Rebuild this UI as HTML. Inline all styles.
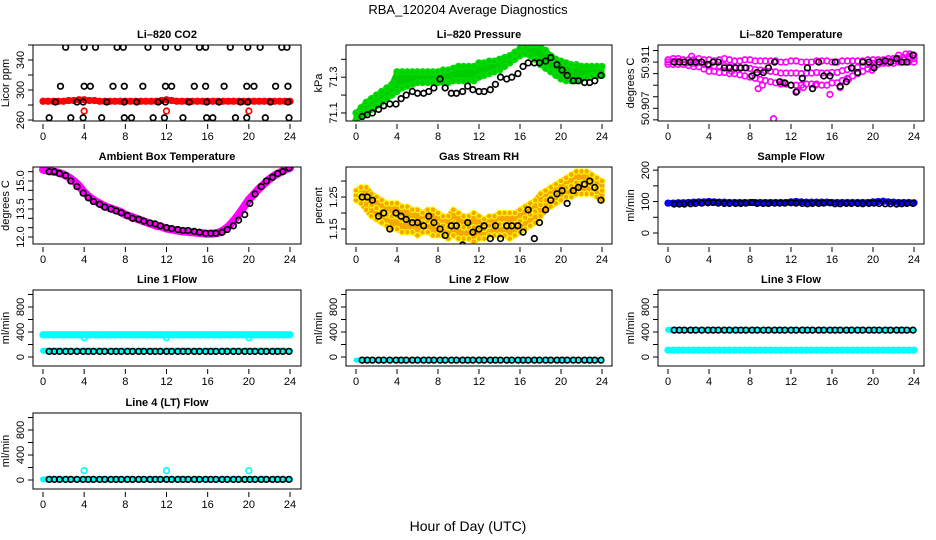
<!DOCTYPE html>
<html><head><meta charset="utf-8"><style>
html,body{margin:0;padding:0;background:#fff;}
svg{display:block;font-family:"Liberation Sans",Arial,sans-serif;}
</style></head><body>
<svg id="chart" width="936" height="540" viewBox="0 0 936 540" xmlns="http://www.w3.org/2000/svg">
<rect x="0" y="0" width="936" height="540" fill="#fff"/>
<text x="468" y="14" text-anchor="middle" font-size="13">RBA_120204  Average Diagnostics</text>
<text x="468" y="531" text-anchor="middle" font-size="14">Hour of Day (UTC)</text>
</svg>
<script>
// ---------- data ----------
const hoursHalf = [0,0.5,1,1.5,2,2.5,3,3.5,4,4.5,5,5.5,6,6.5,7,7.5,8,8.5,9,9.5,10,10.5,11,11.5,12,12.5,13,13.5,14,14.5,15,15.5,16,16.5,17,17.5,18,18.5,19,19.5,20,20.5,21,21.5,22,22.5,23,23.5,24];
const blackHours = [0.6,1.1,1.6,2.2,2.7,3.3,3.9,4.4,4.9,5.5,6.0,6.6,7.1,7.6,8.2,8.7,9.3,9.8,10.4,10.9,11.4,12.0,12.5,13.1,13.6,14.1,14.7,15.2,15.8,16.3,16.8,17.4,17.9,18.5,19.0,19.6,20.1,20.6,21.2,21.7,22.3,22.8,23.3,23.9];
const xTicks = [0,4,8,12,16,20,24];
const outlierHours = [4,12,20];

// CO2
const co2Red = [285,285,285,285,285,286,286,287,287,286,286,285,285,285,285,285,285,285,285,285,285,285,285,286,287,286,285,285,285,285,285,285,285,285,285,285,285,285,285,285,285,285,285,285,285,285,285,285,285];
const co2RedOut = [272,272,272];
const co2BlackHours = [2.2,4.0,5.1,7.2,7.8,10.2,11.9,13.1,15.2,15.8,18.2,19.9,21.1,23.2,23.7, 1.7,4.0,4.6,6.8,7.9,9.7,11.9,12.5,14.7,15.8,17.6,19.8,20.5,22.6,23.8, 1.2,3.3,3.9,6.2,7.9,9.1,11.2,11.9,14.2,15.9,17.1,19.2,19.9,22.1,23.8, 0.6,2.7,3.9,5.7,7.9,8.6,10.7,11.8,13.6,15.9,16.5,18.7,19.8,21.6,23.9];
const co2Black = [357,357,357,357,357,357,357,357,357,357,357,357,357,357,357, 305,305,305,305,305,305,305,305,305,305,305,305,305,305,305, 284,284,284,284,284,284,284,284,284,284,284,284,284,284,284, 263,263,263,263,263,263,263,263,263,263,263,263,263,263,263];

// Pressure
const presUpper = [71.1,71.13,71.16,71.18,71.2,71.22,71.24,71.26,71.33,71.33,71.33,71.33,71.33,71.33,71.33,71.33,71.33,71.34,71.34,71.35,71.36,71.36,71.36,71.36,71.38,71.38,71.39,71.39,71.4,71.41,71.42,71.44,71.46,71.47,71.48,71.48,71.47,71.45,71.42,71.4,71.39,71.38,71.37,71.37,71.36,71.36,71.36,71.36,71.36];
const presLower = [71.06,71.08,71.1,71.12,71.14,71.16,71.18,71.2,71.22,71.24,71.25,71.26,71.27,71.27,71.27,71.27,71.27,71.27,71.27,71.28,71.28,71.28,71.28,71.28,71.3,71.31,71.32,71.33,71.34,71.36,71.38,71.4,71.42,71.43,71.42,71.4,71.37,71.35,71.33,71.31,71.29,71.28,71.28,71.28,71.29,71.3,71.31,71.31,71.31];
const presBlack = [71.08,71.09,71.1,71.12,71.14,71.15,71.15,71.18,71.2,71.22,71.21,71.21,71.22,71.24,71.29,71.24,71.21,71.21,71.22,71.25,71.23,71.22,71.22,71.23,71.26,71.3,71.29,71.3,71.32,71.36,71.38,71.38,71.38,71.39,71.41,71.37,71.34,71.31,71.28,71.28,71.27,71.27,71.28,71.31];

// Li-820 temperature
const tempUpper = [50.9112,50.9113,50.9113,50.9112,50.9112,50.9112,50.9113,50.9112,50.9112,50.9111,50.9112,50.9113,50.9112,50.9111,50.9111,50.9112,50.9112,50.9111,50.9111,50.9111,50.9111,50.9111,50.911,50.911,50.9111,50.9111,50.911,50.911,50.911,50.9111,50.9111,50.9111,50.911,50.911,50.9111,50.9111,50.9111,50.9111,50.9111,50.9112,50.9112,50.9112,50.9112,50.9113,50.9113,50.9113,50.9114,50.9115,50.9116];
const tempLower = [50.9108,50.9108,50.9108,50.9108,50.9107,50.9106,50.9106,50.9104,50.9102,50.9102,50.9101,50.9101,50.91,50.91,50.9099,50.9098,50.9097,50.9096,50.9095,50.9094,50.9093,50.9092,50.9091,50.9091,50.909,50.909,50.909,50.9091,50.9091,50.9091,50.909,50.909,50.9092,50.9092,50.9094,50.9096,50.9098,50.91,50.9102,50.9104,50.9106,50.9108,50.9109,50.9109,50.9109,50.911,50.911,50.911,50.911];
const tempScatterHours = [10.3,15.8,8.8,13.2,14.4,9.2,3.9,6.2,12.6,17.6,19.9,22.5,23.2,23.6,2.3,11.2,16.8];
const tempScatter = [50.9061,50.9082,50.9087,50.9088,50.909,50.909,50.9108,50.9102,50.9085,50.9095,50.9103,50.9116,50.9117,50.9117,50.9115,50.9092,50.9088];
const tempBlack = [50.911,50.911,50.911,50.911,50.911,50.911,50.9108,50.911,50.911,50.9105,50.9105,50.9105,50.9105,50.9105,50.9098,50.9101,50.9101,50.9105,50.911,50.9093,50.9092,50.909,50.9084,50.9096,50.9105,50.9087,50.911,50.9098,50.9098,50.911,50.9089,50.9093,50.9105,50.9101,50.911,50.911,50.9105,50.911,50.9111,50.911,50.9113,50.911,50.911,50.9116];

// Ambient box temperature
const ambMagenta = [15.6,15.55,15.5,15.45,15.35,15.2,15.0,14.75,14.4,14.15,13.95,13.8,13.65,13.55,13.45,13.35,13.2,13.1,13.0,12.9,12.8,12.7,12.6,12.55,12.45,12.4,12.35,12.3,12.28,12.25,12.22,12.2,12.17,12.18,12.22,12.35,12.55,12.85,13.2,13.6,14.0,14.3,14.6,14.85,15.1,15.3,15.45,15.6,15.7];
const ambBlack = [15.5,15.5,15.4,15.3,15.0,14.7,14.35,14.1,13.9,13.75,13.6,13.5,13.4,13.3,13.15,13.0,12.95,12.85,12.75,12.7,12.6,12.5,12.45,12.4,12.35,12.35,12.3,12.25,12.2,12.2,12.2,12.25,12.4,12.6,12.9,13.2,13.8,14.3,14.7,15.0,15.2,15.4,15.5,15.7];

// Gas stream RH
const rhUpper = [1.27,1.28,1.28,1.26,1.25,1.24,1.23,1.23,1.23,1.22,1.22,1.21,1.21,1.2,1.21,1.21,1.2,1.19,1.19,1.21,1.2,1.19,1.19,1.2,1.19,1.18,1.19,1.19,1.2,1.2,1.2,1.2,1.21,1.22,1.23,1.24,1.26,1.27,1.28,1.29,1.3,1.31,1.32,1.33,1.33,1.33,1.32,1.31,1.3];
const rhLower = [1.24,1.23,1.21,1.19,1.18,1.17,1.16,1.15,1.15,1.14,1.14,1.14,1.13,1.14,1.14,1.13,1.13,1.13,1.12,1.13,1.12,1.12,1.12,1.11,1.12,1.12,1.13,1.13,1.13,1.13,1.12,1.13,1.14,1.15,1.16,1.17,1.19,1.21,1.22,1.23,1.24,1.25,1.25,1.26,1.26,1.26,1.26,1.25,1.24];
const rhBlack = [1.25,1.25,1.24,1.19,1.2,1.15,1.2,1.19,1.18,1.17,1.17,1.16,1.19,1.17,1.15,1.13,1.16,1.16,1.1,1.17,1.14,1.15,1.16,1.12,1.16,1.12,1.16,1.16,1.16,1.14,1.21,1.12,1.17,1.21,1.24,1.26,1.27,1.23,1.27,1.28,1.29,1.3,1.28,1.24];

// Sample flow
const sampleBlue = [95,95,96,96,97,98,99,99,100,99,98,98,97,97,97,97,97,97,97,97,97,97,97,97,99,100,99,98,98,98,98,98,97,97,97,97,97,97,97,97,99,100,101,99,98,97,97,97,96];
const sampleBlack = [92,92,92,93,94,95,96,97,95,94,94,94,94,95,97,94,94,94,95,95,95,96,95,94,93,94,94,95,96,93,93,94,94,94,93,94,95,94,93,93,92,93,94,94];

// Line flows
const line1CyanHigh = [355,355,355,356,357,357,356,356,355,355,355,355,355,355,355,355,355,355,355,355,355,355,355,355,355,355,355,355,355,355,355,355,355,355,355,355,355,355,355,355,355,355,355,355,355,355,355,355,355];
const line1CyanOut = [310,310,310];
const line1CyanLow = [100,100,100,100,100,100,100,100,100,100,100,100,100,100,100,100,100,100,100,100,100,100,100,100,100,100,100,100,100,100,100,100,100,100,100,100,100,100,100,100,100,100,100,100,100,100,100,100,100];
const line1Black = [90,90,90,90,90,90,90,90,90,90,90,90,90,90,90,90,90,90,90,90,90,90,90,90,90,90,90,90,90,90,90,90,90,90,90,90,90,90,90,90,90,90,90,90];
const line2Cyan = [-50,-50,-50,-50,-50,-50,-50,-50,-50,-50,-50,-50,-50,-50,-50,-50,-50,-50,-50,-50,-50,-50,-50,-50,-50,-50,-50,-50,-50,-50,-50,-50,-50,-50,-50,-50,-50,-50,-50,-50,-50,-50,-50,-50,-50,-50,-50,-50,-50];
const line2Black = [-50,-50,-50,-50,-50,-50,-50,-50,-50,-50,-50,-50,-50,-50,-50,-50,-50,-50,-50,-50,-50,-50,-50,-50,-50,-50,-50,-50,-50,-50,-50,-50,-50,-50,-50,-50,-50,-50,-50,-50,-50,-50,-50,-50];
const line3CyanHigh = [435,432,430,430,430,430,430,430,430,430,430,430,430,430,430,430,430,430,430,430,430,430,430,430,430,430,430,430,430,430,430,430,430,430,430,430,430,430,430,430,430,430,430,430,430,430,430,430,430];
const line3CyanLow = [110,110,110,110,110,110,110,110,110,110,110,110,110,110,110,110,110,110,110,110,110,110,110,110,110,110,110,110,110,110,110,110,110,110,110,110,110,110,110,110,110,110,110,110,110,110,110,110,110];
const line3Black = [430,430,430,430,430,430,430,430,430,430,430,430,430,430,430,430,430,430,430,430,430,430,430,430,430,430,430,430,430,430,430,430,430,430,430,430,430,430,430,430,430,430,430,430];
const line4Cyan = [10,10,10,10,10,10,10,10,10,10,10,10,10,10,10,10,10,10,10,10,10,10,10,10,10,10,10,10,10,10,10,10,10,10,10,10,10,10,10,10,10,10,10,10,10,10,10,10,10];
const line4CyanOut = [150,150,150];
const line4Black = [10,10,10,10,10,10,10,10,10,10,10,10,10,10,10,10,10,10,10,10,10,10,10,10,10,10,10,10,10,10,10,10,10,10,10,10,10,10,10,10,10,10,10,10];

// ---------- drawing ----------
const NS = 'http://www.w3.org/2000/svg';
const svg = document.getElementById('chart');
const colBox = [[33,301,43,290],[346,612,356,602],[658,924,668,914]];
const rowBox = [[45,121],[167,244],[290,366],[413,489]];

function mk(tag, attrs, parent) {
  const e = document.createElementNS(NS, tag);
  for (const k in attrs) e.setAttribute(k, attrs[k]);
  (parent || svg).appendChild(e);
  return e;
}

function makePanel(col, row, title, ylab, ymin, ymax, yTicks, yLabels, name) {
  const [L, R, x0, x24] = colBox[col];
  const [T, B] = rowBox[row];
  const g = mk('g', {});
  
  
  const xs = h => x0 + (h / 24) * (x24 - x0);
  const ys = v => B - (v - ymin) / (ymax - ymin) * (B - T);
  const t = mk('text', {x: (L + R) / 2, y: T - 7, 'text-anchor': 'middle', 'font-size': 11, 'font-weight': 'bold'}, g);
  t.textContent = title;
  
  
  const yl = mk('text', {transform: `translate(${L - 24},${(T + B) / 2}) rotate(-90)`, 'text-anchor': 'middle', 'font-size': 11}, g);
  yl.textContent = ylab;
  
  
  const ya = mk('line', {x1: L, x2: L, y1: ys(yTicks[0]), y2: ys(yTicks[yTicks.length - 1]), stroke: '#000'}, g);
  
  
  yTicks.forEach(v => {
    const tk = mk('line', {x1: L - 5, x2: L, y1: ys(v), y2: ys(v), stroke: '#000'}, g);
    
    
  });
  yLabels.forEach(lb => {
    const tx = mk('text', {transform: `translate(${L - 9},${ys(parseFloat(lb))}) rotate(-90)`, 'text-anchor': 'middle', 'font-size': 11}, g);
    tx.textContent = lb;
    
    
  });
  xTicks.forEach(h => {
    const tk = mk('line', {x1: xs(h), x2: xs(h), y1: B + 3, y2: B + 8, stroke: '#000'}, g);
    
    
    const tx = mk('text', {x: xs(h), y: B + 19, 'text-anchor': 'middle', 'font-size': 11}, g);
    tx.textContent = String(h);
    
    
  });
  const clipId = 'clip-' + name;
  const cp = mk('clipPath', {id: clipId}, g);
  mk('rect', {x: L, y: T, width: R - L, height: B - T}, cp);
  const plot = mk('g', {'clip-path': `url(#${clipId})`}, g);
  
  
  const frame = mk('rect', {x: L, y: T, width: R - L, height: B - T, fill: 'none', stroke: '#000'}, g);
  
  
  return {xs, ys, plot, g};
}

function points(p, hours, vals, color, sname, sw) {
  const n = Math.min(hours.length, vals.length);
  for (let i = 0; i < n; i++) {
    const c = mk('circle', {cx: p.xs(hours[i]), cy: p.ys(vals[i]), r: 2.8, fill: 'none', stroke: color, 'stroke-width': sw || 1.7}, p.plot);
    
    
  }
}
function band(p, hours, vals, color, width, sname) {
  const n = Math.min(hours.length, vals.length);
  let d = '';
  for (let i = 0; i < n; i++) d += (i ? 'L' : 'M') + p.xs(hours[i]).toFixed(1) + ',' + p.ys(vals[i]).toFixed(1);
  const e = mk('path', {d, fill: 'none', stroke: color, 'stroke-width': width, 'stroke-linejoin': 'round', 'stroke-linecap': 'round'}, p.plot);
  
  
}
function area(p, hours, up, lo, color, sname) {
  const n = Math.min(hours.length, up.length, lo.length);
  let d = '';
  for (let i = 0; i < n; i++) d += (i ? 'L' : 'M') + p.xs(hours[i]).toFixed(1) + ',' + p.ys(up[i]).toFixed(1);
  for (let i = n - 1; i >= 0; i--) d += 'L' + p.xs(hours[i]).toFixed(1) + ',' + p.ys(lo[i]).toFixed(1);
  d += 'Z';
  const e = mk('path', {d, fill: color, stroke: color, 'stroke-width': 5, 'stroke-linejoin': 'round'}, p.plot);
  
  
}
const flowTicks = [0,200,400,600,800,1000];
const flowLabels = ['0','400','800'];

let p = makePanel(0, 0, 'Li\u2013820 CO2', 'Licor ppm', 258.7, 360, [260,280,300,320,340,360], ['260','300','340'], 'co2');
band(p, hoursHalf, co2Red, '#f00', 6, 'co2-red-band');
points(p, hoursHalf, co2Red, '#f00', 'co2-red-point');
points(p, outlierHours, co2RedOut, '#f00', 'co2-red-outlier');
points(p, co2BlackHours, co2Black, '#000', 'co2-black-point');

p = makePanel(1, 0, 'Li\u2013820 Pressure', 'kPa', 71.055, 71.48, [71.1,71.2,71.3,71.4], ['71.1','71.3'], 'pressure');
area(p, hoursHalf, presUpper, presLower, '#0c0', 'pressure-green-band');
points(p, hoursHalf, presUpper, '#0d0', 'pressure-green-point');
points(p, hoursHalf, presLower, '#0d0', 'pressure-green-point');
points(p, blackHours, presBlack, '#000', 'pressure-black-point');

p = makePanel(2, 0, 'Li\u2013820 Temperature', 'degrees C', 50.9059, 50.91248, [50.906,50.907,50.908,50.909,50.910,50.911,50.912], ['50.907','50.911'], 'temperature');
points(p, hoursHalf, tempUpper, '#f0f', 'temperature-magenta-point');
points(p, hoursHalf, tempLower, '#f0f', 'temperature-magenta-point');
points(p, hoursHalf, tempUpper.map((u, i) => (u + tempLower[i]) / 2), '#f0f', 'temperature-magenta-point');
points(p, tempScatterHours, tempScatter, '#f0f', 'temperature-magenta-outlier');
points(p, blackHours, tempBlack, '#000', 'temperature-black-point');

p = makePanel(0, 1, 'Ambient Box Temperature', 'degrees C', 11.625, 15.75, [12,12.5,13,13.5,14,14.5,15,15.5], ['12.0','13.5','15.0'], 'ambient');
band(p, hoursHalf, ambMagenta, '#f0f', 8, 'ambient-magenta-band');
points(p, blackHours, ambBlack, '#000', 'ambient-black-point');

p = makePanel(1, 1, 'Gas Stream RH', 'percent', 1.103, 1.344, [1.15,1.2,1.25,1.3], ['1.15','1.25'], 'rh');
area(p, hoursHalf, rhUpper, rhLower, '#f5a800', 'rh-orange-band');
points(p, hoursHalf, rhUpper, '#ff0', 'rh-yellow-point', 1);
points(p, hoursHalf, rhLower, '#ff0', 'rh-yellow-point', 1);
points(p, hoursHalf, rhUpper.map((u, i) => (u + rhLower[i]) / 2), '#ff0', 'rh-yellow-point', 1);
points(p, blackHours, rhBlack, '#000', 'rh-black-point');

p = makePanel(2, 1, 'Sample Flow', 'ml/min', -35, 210, [0,50,100,150,200], ['0','100','200'], 'sample-flow');
band(p, hoursHalf, sampleBlue, '#00f', 6, 'sample-flow-blue-band');
points(p, hoursHalf, sampleBlue, '#00f', 'sample-flow-blue-point');
points(p, blackHours, sampleBlack, '#000', 'sample-flow-black-point');

p = makePanel(0, 2, 'Line 1 Flow', 'ml/min', -144, 1072, flowTicks, flowLabels, 'line1-flow');
band(p, hoursHalf, line1CyanHigh, '#0ff', 7, 'line1-cyan-high');
points(p, hoursHalf, line1CyanHigh, '#0ff', 'line1-cyan-point');
points(p, outlierHours, line1CyanOut, '#0ff', 'line1-cyan-outlier');
band(p, hoursHalf, line1CyanLow, '#0ff', 6, 'line1-cyan-low');
points(p, blackHours, line1Black, '#000', 'line1-black-point');

p = makePanel(1, 2, 'Line 2 Flow', 'ml/min', -144, 1072, flowTicks, flowLabels, 'line2-flow');
band(p, hoursHalf, line2Cyan, '#0ff', 5, 'line2-cyan-band');
points(p, blackHours, line2Black, '#000', 'line2-black-point');

p = makePanel(2, 2, 'Line 3 Flow', 'ml/min', -144, 1072, flowTicks, flowLabels, 'line3-flow');
band(p, hoursHalf, line3CyanHigh, '#0ff', 6, 'line3-cyan-high');
band(p, hoursHalf, line3CyanLow, '#0ff', 6, 'line3-cyan-low');
points(p, hoursHalf, line3CyanLow, '#0ff', 'line3-cyan-point');
points(p, blackHours, line3Black, '#000', 'line3-black-point');

p = makePanel(0, 3, 'Line 4 (LT) Flow', 'ml/min', -144, 1072, flowTicks, flowLabels, 'line4-flow');
band(p, hoursHalf, line4Cyan, '#0ff', 6, 'line4-cyan-band');
points(p, outlierHours, line4CyanOut, '#0ff', 'line4-cyan-outlier');
points(p, blackHours, line4Black, '#000', 'line4-black-point');
</script>
</body></html>
